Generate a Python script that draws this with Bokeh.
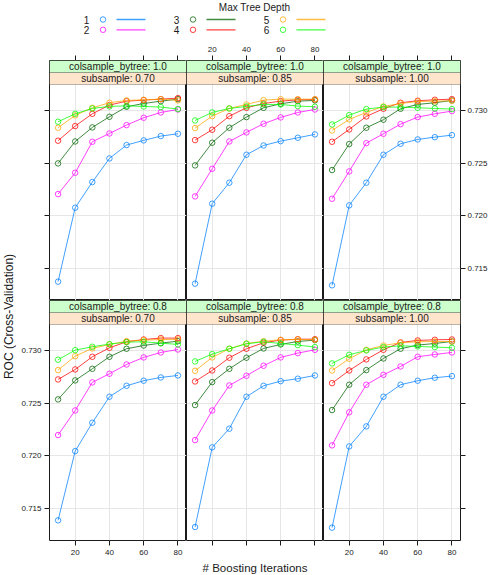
import math

from bokeh.plotting import figure
from bokeh.layouts import row, column
from bokeh.models import (Range1d, FixedTicker, PrintfTickFormatter, BoxAnnotation,
                          Label, LinearAxis)
from bokeh.embed import file_html
from bokeh.resources import INLINE

# ---------------------------------------------------------------- data
iterations = [10, 20, 30, 40, 50, 60, 70, 80]
max_depths = ["1", "2", "3", "4", "5", "6"]
depth_colors = ["#0080ff", "#ff00ff", "#006400", "#ff0000", "#ffa500", "#00ff00"]
colsample_levels = ["1.0", "0.8"]
subsample_levels = ["0.70", "0.85", "1.00"]
x_ticks = [20, 40, 60, 80]
y_ticks = [0.715, 0.720, 0.725, 0.730]

# cross-validated ROC, one row per max tree depth (1..6), one column per iteration count
roc_cs10_ss070 = [
    [0.71377, 0.72078, 0.72321, 0.72545, 0.72672, 0.72716, 0.72757, 0.72779],
    [0.72207, 0.72409, 0.72703, 0.72782, 0.72861, 0.72931, 0.72981, 0.73009],
    [0.72498, 0.72706, 0.72839, 0.72940, 0.73035, 0.73066, 0.73088, 0.73107],
    [0.72713, 0.72852, 0.72968, 0.73051, 0.73088, 0.73098, 0.73107, 0.73117],
    [0.72836, 0.72953, 0.73025, 0.73073, 0.73095, 0.73101, 0.73107, 0.73095],
    [0.72893, 0.72968, 0.73019, 0.73038, 0.73044, 0.73038, 0.73032, 0.73013],
]
roc_cs10_ss085 = [
    [0.71358, 0.72116, 0.72315, 0.72580, 0.72668, 0.72709, 0.72741, 0.72773],
    [0.72185, 0.72447, 0.72706, 0.72792, 0.72874, 0.72934, 0.72981, 0.73009],
    [0.72479, 0.72694, 0.72836, 0.72937, 0.73025, 0.73063, 0.73088, 0.73095],
    [0.72719, 0.72817, 0.72946, 0.73025, 0.73066, 0.73088, 0.73101, 0.73104],
    [0.72833, 0.72946, 0.73019, 0.73057, 0.73098, 0.73107, 0.73107, 0.73107],
    [0.72905, 0.72981, 0.73019, 0.73038, 0.73057, 0.73057, 0.73041, 0.73035],
]
roc_cs10_ss100 = [
    [0.71342, 0.72100, 0.72315, 0.72580, 0.72684, 0.72725, 0.72747, 0.72766],
    [0.72163, 0.72422, 0.72690, 0.72779, 0.72870, 0.72937, 0.72968, 0.72994],
    [0.72435, 0.72681, 0.72836, 0.72912, 0.73016, 0.73057, 0.73073, 0.73095],
    [0.72703, 0.72820, 0.72943, 0.73016, 0.73073, 0.73092, 0.73101, 0.73107],
    [0.72810, 0.72915, 0.72981, 0.73038, 0.73066, 0.73085, 0.73088, 0.73092],
    [0.72867, 0.72956, 0.73013, 0.73032, 0.73032, 0.73025, 0.73019, 0.73013],
]
roc_cs08_ss070 = [
    [0.71389, 0.72046, 0.72315, 0.72561, 0.72665, 0.72713, 0.72744, 0.72763],
    [0.72198, 0.72431, 0.72697, 0.72779, 0.72867, 0.72934, 0.72981, 0.73009],
    [0.72536, 0.72716, 0.72826, 0.72940, 0.73016, 0.73047, 0.73069, 0.73088],
    [0.72725, 0.72820, 0.72940, 0.73025, 0.73082, 0.73104, 0.73117, 0.73117],
    [0.72814, 0.72946, 0.73019, 0.73057, 0.73088, 0.73098, 0.73104, 0.73104],
    [0.72912, 0.73003, 0.73035, 0.73060, 0.73079, 0.73082, 0.73069, 0.73057],
]
roc_cs08_ss085 = [
    [0.71326, 0.72081, 0.72258, 0.72561, 0.72665, 0.72709, 0.72732, 0.72763],
    [0.72150, 0.72431, 0.72668, 0.72760, 0.72855, 0.72934, 0.72975, 0.73006],
    [0.72482, 0.72700, 0.72826, 0.72931, 0.73019, 0.73057, 0.73085, 0.73098],
    [0.72706, 0.72810, 0.72931, 0.73016, 0.73073, 0.73098, 0.73107, 0.73107],
    [0.72807, 0.72934, 0.73016, 0.73066, 0.73088, 0.73101, 0.73104, 0.73101],
    [0.72896, 0.72965, 0.73016, 0.73063, 0.73082, 0.73066, 0.73051, 0.73032],
]
roc_cs08_ss100 = [
    [0.71320, 0.72090, 0.72280, 0.72561, 0.72675, 0.72713, 0.72741, 0.72757],
    [0.72100, 0.72413, 0.72675, 0.72769, 0.72848, 0.72940, 0.72962, 0.72981],
    [0.72435, 0.72675, 0.72814, 0.72924, 0.73016, 0.73051, 0.73066, 0.73085],
    [0.72690, 0.72810, 0.72915, 0.73006, 0.73076, 0.73095, 0.73101, 0.73104],
    [0.72810, 0.72921, 0.73006, 0.73047, 0.73073, 0.73082, 0.73085, 0.73085],
    [0.72877, 0.72959, 0.73000, 0.73032, 0.73044, 0.73038, 0.73032, 0.73025],
]

panel_rows = [
    [roc_cs10_ss070, roc_cs10_ss085, roc_cs10_ss100],
    [roc_cs08_ss070, roc_cs08_ss085, roc_cs08_ss100],
]

# ---------------------------------------------------------------- styling
FONT = "Liberation Sans"
INK = "#1a1a1a"
GRID = "#e6e6e6"
ALPHA = 0.75
PANEL_W, PANEL_H, STRIP_H = 137, 216, 12
X_LO, X_HI = 5, 85
Y_LO, Y_HI = 0.71198, 0.73246
PER_PX = (Y_HI - Y_LO) / PANEL_H
Y_STRIP_MID = Y_HI + STRIP_H * PER_PX
Y_TOP = Y_HI + 2 * STRIP_H * PER_PX
LEFT_B, RIGHT_B, TOP_B, BOTTOM_B = 33, 31, 20, 20
YLAB_W = 16
XLAB_H = 15


def style_axis(axis, standoff):
    axis.axis_line_color = None
    axis.major_tick_line_color = INK
    axis.major_tick_in = 0
    axis.major_tick_out = 5
    axis.minor_tick_line_color = None
    axis.major_label_text_font = FONT
    axis.major_label_text_font_size = "8px"
    axis.major_label_text_color = INK
    axis.major_label_standoff = standoff


def make_panel(roc, r, c):
    lb = LEFT_B if c == 0 else 0
    rb = RIGHT_B if c == 2 else 0
    tb = TOP_B if r == 0 else 0
    bb = BOTTOM_B if r == 1 else 0
    p = figure(width=PANEL_W + lb + rb, height=PANEL_H + 2 * STRIP_H + tb + bb,
               x_range=Range1d(X_LO, X_HI), y_range=Range1d(Y_LO, Y_TOP),
               x_axis_location=None, y_axis_location=None,
               output_backend="svg", toolbar_location=None,
               min_border_left=lb, min_border_right=rb,
               min_border_top=tb, min_border_bottom=bb)
    p.outline_line_color = INK
    p.outline_line_width = 1
    p.background_fill_color = "white"
    p.border_fill_color = "white"

    p.xgrid.ticker = FixedTicker(ticks=x_ticks)
    p.ygrid.ticker = FixedTicker(ticks=y_ticks)
    p.xgrid.grid_line_color = GRID
    p.ygrid.grid_line_color = GRID

    # x axis: ticks on the outer edge, labels alternate between columns
    xax = LinearAxis(ticker=FixedTicker(ticks=x_ticks))
    style_axis(xax, 4)
    x_labelled = (c == 1) if r == 0 else (c != 1)
    if not x_labelled:
        xax.major_label_overrides = {t: "" for t in x_ticks}
    p.add_layout(xax, "above" if r == 0 else "below")

    # y axis on the outer columns, labels on the left for the lower row, right for the upper
    if c in (0, 2):
        yax = LinearAxis(ticker=FixedTicker(ticks=y_ticks),
                         formatter=PrintfTickFormatter(format="%.3f"))
        style_axis(yax, 3 if c == 0 else 2)
        y_labelled = (c == 0 and r == 1) or (c == 2 and r == 0)
        if not y_labelled:
            yax.major_label_overrides = {t: "" for t in y_ticks}
        p.add_layout(yax, "left" if c == 0 else "right")

    # one line-and-circle series per tree depth
    for depth_vals, color in zip(roc, depth_colors):
        p.line(iterations, depth_vals, line_color=color, line_alpha=ALPHA, line_width=1)
        p.scatter(iterations, depth_vals, marker="circle", size=5.5, fill_color=None,
                  line_color=color, line_alpha=ALPHA, line_width=1)

    # conditioning strips
    p.add_layout(BoxAnnotation(bottom=Y_HI, top=Y_STRIP_MID, fill_color="#ffe5cc",
                               fill_alpha=1, line_color=INK, line_width=1))
    p.add_layout(BoxAnnotation(bottom=Y_STRIP_MID, top=Y_TOP, fill_color="#ccffcc",
                               fill_alpha=1, line_color=INK, line_width=1))
    x_mid = (X_LO + X_HI) / 2
    p.add_layout(Label(x=x_mid, y=(Y_HI + Y_STRIP_MID) / 2,
                       text=f"subsample: {subsample_levels[c]}",
                       text_align="center", text_baseline="middle",
                       text_font=FONT, text_font_size="10px", text_color=INK))
    p.add_layout(Label(x=x_mid, y=(Y_STRIP_MID + Y_TOP) / 2,
                       text=f"colsample_bytree: {colsample_levels[r]}",
                       text_align="center", text_baseline="middle",
                       text_font=FONT, text_font_size="10px", text_color=INK))
    return p


def blank(width, height):
    f = figure(width=width, height=height, x_range=Range1d(0, width), y_range=Range1d(height, 0),
               x_axis_location=None, y_axis_location=None,
               output_backend="svg", toolbar_location=None,
               min_border_left=0, min_border_right=0, min_border_top=0, min_border_bottom=0)
    f.outline_line_color = None
    f.xgrid.visible = False
    f.ygrid.visible = False
    f.background_fill_color = "white"
    f.border_fill_color = "white"
    return f


TOTAL_W = YLAB_W + LEFT_B + 3 * PANEL_W + RIGHT_B

# ---------------------------------------------------------------- key
key = blank(TOTAL_W, 40)
key.add_layout(Label(x=254, y=7, text="Max Tree Depth", text_align="center",
                     text_baseline="middle", text_font=FONT, text_font_size="10px",
                     text_color=INK))
KEY_X0, KEY_COL_DX, KEY_Y0, KEY_ROW_DY = 86, 90, 19, 10.3
for i, (name, color) in enumerate(zip(max_depths, depth_colors)):
    kx = KEY_X0 + (i // 2) * KEY_COL_DX
    ky = KEY_Y0 + (i % 2) * KEY_ROW_DY
    key.add_layout(Label(x=kx, y=ky, text=name, text_align="center", text_baseline="middle",
                         text_font=FONT, text_font_size="10px", text_color=INK))
    key.scatter([kx + 16.5], [ky], marker="circle", size=5.5, fill_color=None,
                line_color=color, line_alpha=ALPHA, line_width=1)
    key.line([kx + 30, kx + 59], [ky, ky], line_color=color, line_alpha=ALPHA, line_width=1.3)

# ---------------------------------------------------------------- axis titles
ylab = blank(YLAB_W, TOP_B + BOTTOM_B + 2 * (PANEL_H + 2 * STRIP_H))
ylab.add_layout(Label(x=8, y=276, text="ROC (Cross-Validation)", angle=math.pi / 2,
                      text_align="center", text_baseline="middle",
                      text_font=FONT, text_font_size="12px", text_color=INK))

xlab = blank(TOTAL_W, XLAB_H)
xlab.add_layout(Label(x=YLAB_W + LEFT_B + 1.5 * PANEL_W, y=XLAB_H / 2, text="# Boosting Iterations",
                      text_align="center", text_baseline="middle",
                      text_font=FONT, text_font_size="11.5px", text_color=INK))

panels = [[make_panel(panel_rows[r][c], r, c) for c in range(3)] for r in range(2)]
grid = column(row(*panels[0], spacing=0), row(*panels[1], spacing=0), spacing=0)
page = column(key, row(ylab, grid, spacing=0), xlab, spacing=0)

open("out.html", "w").write(file_html(page, INLINE, title="xgboost tuning"))
